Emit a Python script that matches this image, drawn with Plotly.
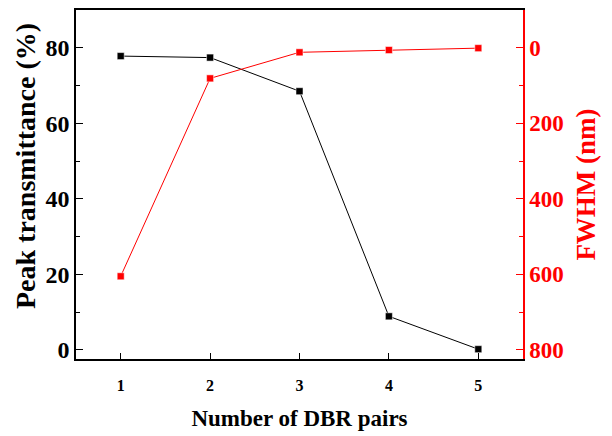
import plotly.graph_objects as go

pairs = [1, 2, 3, 4, 5]
peak_transmittance = [77.8, 77.4, 68.5, 8.9, 0.2]
fwhm_nm = [605, 81, 12, 6, 1]

x_ticks = [1, 2, 3, 4, 5]
y_ticks = [0, 20, 40, 60, 80]
y2_ticks = [0, 200, 400, 600, 800]

FONT = "Liberation Serif"

fig = go.Figure()
fig.add_trace(go.Scatter(
    x=pairs, y=peak_transmittance, mode="lines+markers",
    line=dict(color="black", width=1),
    marker=dict(symbol="square", size=7, color="black", line=dict(color="white", width=0.5)),
    yaxis="y", showlegend=False))
fig.add_trace(go.Scatter(
    x=pairs, y=fwhm_nm, mode="lines+markers",
    line=dict(color="red", width=1),
    marker=dict(symbol="square", size=7, color="red", line=dict(color="white", width=0.5)),
    yaxis="y2", showlegend=False))

fig.update_layout(
    width=612, height=436,
    margin=dict(l=76, r=89, t=8, b=77),
    paper_bgcolor="white", plot_bgcolor="white",
    font=dict(family=FONT, color="black"),
    xaxis=dict(
        range=[0.5, 5.5], tickvals=x_ticks, ticks="inside", ticklen=6, tickwidth=1.2,
        tickcolor="black", showline=True, linecolor="black", linewidth=1.5, mirror=True,
        showgrid=False, zeroline=False, ticklabelstandoff=11,
        tickfont=dict(family=FONT, size=16, color="black", weight="bold"),
        title=dict(text="<b>Number of DBR pairs</b>", font=dict(family=FONT, size=23, color="black"), standoff=17),
    ),
    yaxis=dict(
        range=[-2.4, 90], tickvals=y_ticks, ticks="inside", ticklen=7, tickwidth=1.2,
        tickcolor="black", showline=True, linecolor="black", linewidth=1.5,
        showgrid=False, zeroline=False,
        minor=dict(tickvals=[10, 30, 50, 70], ticks="inside", ticklen=4, tickwidth=1.2, tickcolor="black"),
        tickfont=dict(family=FONT, size=24, color="black", weight="bold"),
    ),
    yaxis2=dict(
        overlaying="y", side="right", range=[824, -100], tickvals=y2_ticks,
        ticks="inside", ticklen=7, tickwidth=1.2, tickcolor="red",
        showline=True, linecolor="red", linewidth=1.5,
        showgrid=False, zeroline=False,
        minor=dict(tickvals=[100, 300, 500, 700], ticks="inside", ticklen=4, tickwidth=1.2, tickcolor="red"),
        tickfont=dict(family=FONT, size=23, color="red", weight="bold"),
        title=dict(text="<b>FWHM (nm)</b>", font=dict(family=FONT, size=27, color="red"), standoff=13),
    ),
    annotations=[dict(
        text="<b>Peak transmittance (%)</b>", textangle=-90,
        xref="paper", yref="paper", x=-0.114, y=0.553, xanchor="center", yanchor="middle",
        showarrow=False, font=dict(family=FONT, size=28, color="black"),
    )],
)

fig.write_html("out.html")
